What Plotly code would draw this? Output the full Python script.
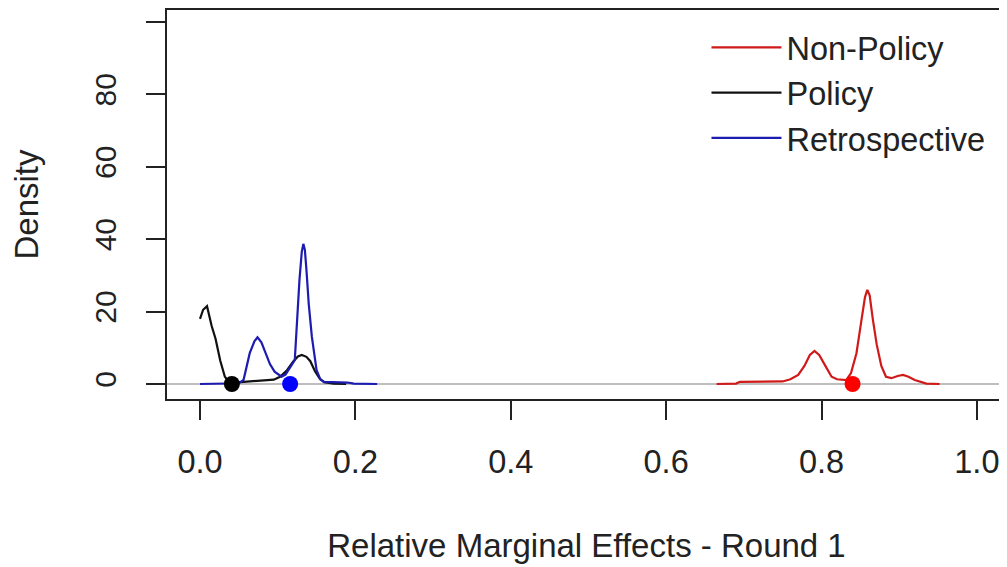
import plotly.graph_objects as go

# density curves
nonpolicy_x = [0.665, 0.690, 0.695, 0.720, 0.750, 0.760, 0.770, 0.778, 0.785, 0.791,
               0.797, 0.805, 0.813, 0.820, 0.832, 0.838, 0.845, 0.851, 0.856, 0.859,
               0.862, 0.866, 0.871, 0.877, 0.883, 0.890, 0.898, 0.905, 0.912, 0.920,
               0.928, 0.935, 0.952]
nonpolicy_y = [0.0, 0.1, 0.6, 0.6, 0.7, 1.3, 2.5, 5.0, 8.0, 9.1,
               8.0, 5.0, 2.0, 1.3, 1.1, 3.0, 8.5, 17.0, 24.0, 26.0,
               24.5, 18.0, 11.0, 5.0, 2.0, 1.6, 2.2, 2.5, 2.0, 1.1,
               0.5, 0.1, 0.0]

policy_x = [0.000, 0.004, 0.009, 0.015, 0.020, 0.026, 0.032, 0.037, 0.045, 0.060,
            0.080, 0.095, 0.103, 0.112, 0.120, 0.126, 0.131, 0.137, 0.142, 0.148,
            0.154, 0.160, 0.172, 0.188]
policy_y = [18.0, 20.5, 21.5, 16.0, 12.5, 6.5, 2.0, 0.6, 0.4, 0.6,
            0.8, 1.2, 2.0, 3.8, 6.2, 7.6, 8.0, 7.5, 6.3, 3.5,
            1.5, 0.5, 0.1, 0.0]

retro_x = [0.000, 0.030, 0.050, 0.056, 0.064, 0.070, 0.074, 0.079, 0.084, 0.090,
           0.096, 0.105, 0.110, 0.116, 0.122, 0.128, 0.131, 0.133, 0.135, 0.137,
           0.140, 0.144, 0.150, 0.155, 0.160, 0.170, 0.190, 0.198, 0.215, 0.228]
retro_y = [0.0, 0.0, 0.2, 1.1, 8.5, 11.8, 12.9, 11.5, 8.5, 5.5,
           3.4, 2.0, 2.6, 4.8, 6.6, 28.7, 36.5, 38.7, 37.0, 31.5,
           22.0, 13.0, 3.9, 1.2, 0.5, 0.5, 0.4, 0.1, 0.0, 0.0]

# point estimates shown as dots on the baseline
point_x = [0.840, 0.041, 0.116]
point_y = [0, 0, 0]

names = ["Non-Policy", "Policy", "Retrospective"]
line_cols = ["#d01a1a", "#111111", "#1c1cb0"]
dot_cols = ["#ff0000", "#000000", "#0000ff"]

y_ticks = [0, 20, 40, 60, 80, 100]
y_ticktext = ["0", "20", "40", "60", "80", ""]
x_ticks = [0.0, 0.2, 0.4, 0.6, 0.8, 1.0]
x_ticktext = ["0.0", "0.2", "0.4", "0.6", "0.8", "1.0"]

FONT = "Liberation Sans, Arial, sans-serif"

fig = go.Figure()

curves = [(nonpolicy_x, nonpolicy_y), (policy_x, policy_y), (retro_x, retro_y)]
for (xs, ys), name, col in zip(curves, names, line_cols):
    fig.add_trace(go.Scatter(x=xs, y=ys, mode="lines", name=name,
                             line=dict(color=col, width=2.2)))

for px_, py_, col, name in zip(point_x, point_y, dot_cols, names):
    fig.add_trace(go.Scatter(x=[px_], y=[py_], mode="markers", showlegend=False,
                             name=name, marker=dict(color=col, size=16)))

# the page body adds an 8px offset, so margins are trimmed to compensate
fig.update_layout(
    width=1007, height=567,
    margin=dict(l=159, r=9, t=2, b=176),
    plot_bgcolor="white", paper_bgcolor="white",
    font=dict(family=FONT, size=30, color="#222222"),
    legend=dict(x=0.643, y=0.975, xanchor="left", yanchor="top",
                bgcolor="rgba(0,0,0,0)", font=dict(size=32.5),
                itemwidth=70, tracegroupgap=0),
)

fig.update_xaxes(range=[-0.0425, 1.0375], tickvals=x_ticks, ticktext=x_ticktext,
                 automargin=False, showgrid=False, zeroline=False,
                 showline=True, linecolor="#222222", linewidth=2, mirror=True,
                 ticks="outside", ticklen=19, tickwidth=2, tickcolor="#222222",
                 tickfont=dict(size=32.5), ticklabelstandoff=14,
                 title=dict(text="Relative Marginal Effects - Round 1", standoff=55,
                            font=dict(size=33)))

fig.update_yaxes(range=[-4.15, 103.3], tickvals=y_ticks, ticktext=y_ticktext,
                 automargin=False, showgrid=False,
                 zeroline=True, zerolinecolor="#bebebe", zerolinewidth=1.5,
                 showline=True, linecolor="#222222", linewidth=2, mirror=True,
                 ticks="outside", ticklen=19, tickwidth=2, tickcolor="#222222",
                 tickangle=-90, tickfont=dict(size=30), ticklabelstandoff=18,
                 title=dict(text="Density", standoff=40, font=dict(size=33)))

fig.write_html("out.html")
